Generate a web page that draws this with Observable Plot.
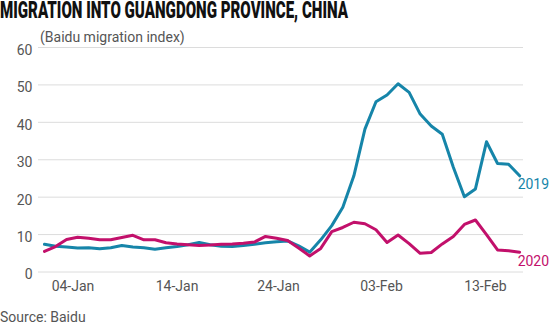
<!DOCTYPE html>
<html>
<head>
<meta charset="utf-8">
<script src="https://cdn.jsdelivr.net/npm/d3@7"></script>
<script src="https://cdn.jsdelivr.net/npm/@observablehq/plot@0.6"></script>
<style>
  html, body { margin: 0; padding: 0; background: #fff; }
  body { width: 560px; height: 325px; overflow: hidden; font-family: Roboto, "Noto Sans", sans-serif; }
  #title { height: 24px; overflow: visible; }
  #title span { display: inline-block; font-family: Roboto, "Noto Sans", sans-serif; font-weight: 900; font-size: 23px; line-height: 22px; color: #111; white-space: nowrap; transform-origin: 0 0; }
  #subtitle { font-size: 14px; line-height: 20px; height: 16px; color: #555; padding-left: 40px; position: relative; top: 3px; }
  #source { font-size: 14px; line-height: 18px; color: #555; padding-top: 8px; }
  svg { display: block; }
</style>
</head>
<body>
<div id="title"><span>MIGRATION INTO GUANGDONG PROVINCE, CHINA</span></div>
<div id="subtitle">(Baidu migration index)</div>
<div id="chart"></div>
<div id="source">Source: Baidu</div>
<script>
// Daily Baidu migration index into Guangdong (one value per day, in chart order)
const series2019 = [7.4, 6.9, 6.7, 6.4, 6.5, 6.2, 6.5, 7.1, 6.7, 6.5, 6.1, 6.5,
  6.8, 7.3, 7.9, 7.3, 6.9, 6.8, 7.1, 7.4, 7.8, 8.1, 8.3, 7.0, 5.3, 8.6,
  12.4, 17.3, 25.7, 38.2, 45.5, 47.3, 50.3, 48.0, 42.2, 39.0, 36.8, 28.0,
  20.1, 22.2, 34.8, 29.0, 28.8, 25.7];
const series2020 = [5.5, 6.8, 8.7, 9.3, 9.0, 8.6, 8.6, 9.2, 9.8, 8.6, 8.6, 7.8,
  7.5, 7.3, 7.1, 7.2, 7.4, 7.5, 7.7, 8.0, 9.5, 9.0, 8.4, 6.4, 4.3, 6.3,
  10.8, 11.9, 13.3, 12.9, 11.3, 7.9, 9.9, 7.6, 5.0, 5.2, 7.5, 9.5,
  12.7, 13.9, 10.0, 5.9, 5.7, 5.3];
const seriesNames = ["2019", "2020"];
const seriesColors = ["#1685a9", "#c2106b"];
const yTicks = [0, 10, 20, 30, 40, 50, 60];
// x tick positions (in day-index units) and their labels
const xTickPositions = [2.58, 12.0, 21.18, 30.5, 39.9];
const xTickLabels = ["04-Jan", "14-Jan", "24-Jan", "03-Feb", "13-Feb"];

// fit the condensed headline to the reference width
const titleSpan = document.querySelector("#title span");
const naturalWidth = titleSpan.getBoundingClientRect().width;
titleSpan.style.transform = `scaleX(${348 / naturalWidth})`;

const labelMap = new Map(xTickPositions.map((p, i) => [p, xTickLabels[i]]));
const allSeries = [series2019, series2020];
const ends = allSeries.map((s, k) => ({x: s.length - 1, y: s[s.length - 1], name: seriesNames[k], color: seriesColors[k]}));

const chart = Plot.plot({
  width: 560,
  height: 260,
  marginTop: 7,
  marginBottom: 28.5,
  marginLeft: 38,
  marginRight: 37,
  style: {fontFamily: "Roboto, 'Noto Sans', sans-serif", fontSize: "14px", background: "#fff", overflow: "visible"},
  x: {domain: [-0.54, 43.35], axis: null},
  y: {domain: [0, 60], axis: null},
  marks: [
    Plot.gridY(yTicks, {stroke: "#dcdcdc", strokeOpacity: 1, strokeWidth: 1}),
    Plot.axisY(yTicks, {tickSize: 0, tickPadding: 6, dy: 3, fontSize: 14, fill: "#555", label: null}),
    Plot.axisX(xTickPositions, {tickSize: 0, tickPadding: 9, fontSize: 14, fill: "#555", label: null, tickFormat: d => labelMap.get(d)}),
    ...allSeries.map((s, k) => Plot.lineY(s, {stroke: seriesColors[k], strokeWidth: 3, strokeLinejoin: "round", strokeLinecap: "round"})),
    Plot.text(ends, {x: "x", y: "y", text: "name", fill: "color", textAnchor: "start", dx: -2, dy: 9, fontSize: 14})
  ]
});
document.getElementById("chart").appendChild(chart);
</script>
</body>
</html>
